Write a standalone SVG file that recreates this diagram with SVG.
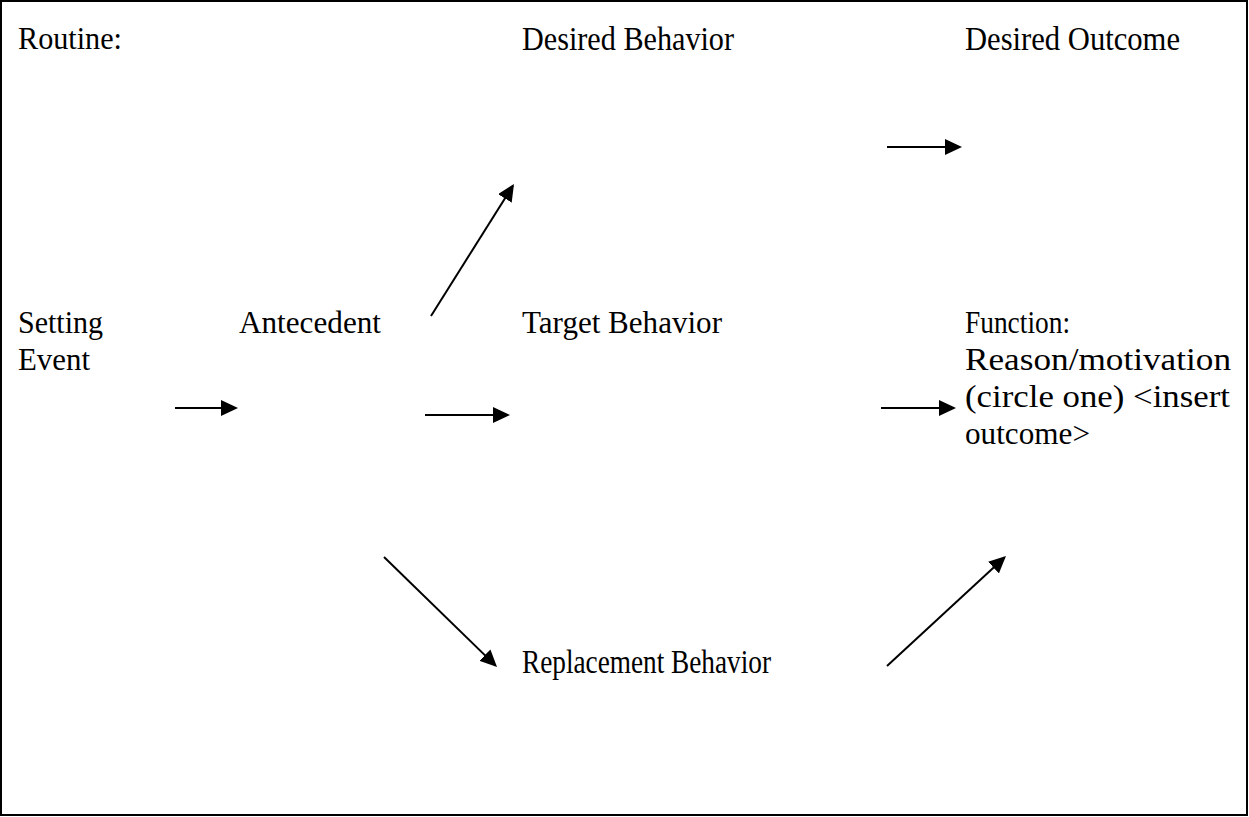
<svg xmlns="http://www.w3.org/2000/svg" width="1249" height="817" viewBox="0 0 1249 817">
<style>
  .t { font-family: "Liberation Serif", "Times New Roman", serif; font-size: 31px; fill: #000; }
  .n { font-family: "Liberation Serif", "Times New Roman", serif; font-size: 33px; fill: #000; }
  .c { stroke: #000; stroke-width: 2; fill: none; marker-end: url(#ah); }
</style>
<defs>
  <marker id="ah" markerUnits="userSpaceOnUse" markerWidth="17" markerHeight="16" refX="15" refY="8" orient="auto">
    <path d="M0,0 L17,8 L0,16 z" fill="#000"/>
  </marker>
</defs>
<rect x="1" y="1" width="1246" height="814" fill="#fff" stroke="#000" stroke-width="2"/>
<g id="routine"><text class="t" x="18" y="49" textLength="104" lengthAdjust="spacingAndGlyphs">Routine:</text></g>
<g id="desired-behavior"><text class="n" x="522" y="50" textLength="212" lengthAdjust="spacingAndGlyphs">Desired Behavior</text></g>
<g id="desired-outcome"><text class="n" x="965" y="50" textLength="215" lengthAdjust="spacingAndGlyphs">Desired Outcome</text></g>
<g id="setting-event">
  <text class="t" x="18" y="333" textLength="85" lengthAdjust="spacingAndGlyphs">Setting</text>
  <text class="t" x="18" y="370" textLength="72" lengthAdjust="spacingAndGlyphs">Event</text>
</g>
<g id="antecedent"><text class="t" x="239" y="333" textLength="142" lengthAdjust="spacingAndGlyphs">Antecedent</text></g>
<g id="target-behavior"><text class="t" x="522" y="333" textLength="200" lengthAdjust="spacingAndGlyphs">Target Behavior</text></g>
<g id="function">
  <text class="t" x="965" y="333" textLength="105" lengthAdjust="spacingAndGlyphs">Function:</text>
  <text class="t" x="965" y="370" textLength="266" lengthAdjust="spacingAndGlyphs">Reason/motivation</text>
  <text class="t" x="965" y="407" textLength="265" lengthAdjust="spacingAndGlyphs">(circle one) &lt;insert</text>
  <text class="t" x="965" y="444" textLength="125" lengthAdjust="spacingAndGlyphs">outcome&gt;</text>
</g>
<g id="replacement-behavior"><text class="n" x="522" y="673" textLength="249" lengthAdjust="spacingAndGlyphs">Replacement Behavior</text></g>
<g id="connectors">
  <line class="c" x1="175" y1="408" x2="236" y2="408"/>
  <line class="c" x1="425" y1="415" x2="508" y2="415"/>
  <line class="c" x1="881" y1="408" x2="954" y2="408"/>
  <line class="c" x1="887" y1="147" x2="960" y2="147"/>
  <line class="c" x1="431" y1="316" x2="512.9" y2="185.7"/>
  <line class="c" x1="384" y1="557" x2="495.6" y2="665.6"/>
  <line class="c" x1="887" y1="666" x2="1004.5" y2="557.4"/>
</g>
</svg>
